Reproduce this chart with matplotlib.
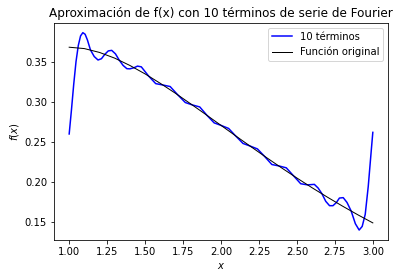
import matplotlib
matplotlib.use("Agg")
import matplotlib.pyplot as plt

# values
x_orig = [1.0, 1.1, 1.2, 1.3, 1.4, 1.5, 1.6, 1.7, 1.8, 1.9, 2.0,
          2.1, 2.2, 2.3, 2.4, 2.5, 2.6, 2.7, 2.8, 2.9, 3.0]
f_orig = [0.3679, 0.3662, 0.3614, 0.3543, 0.3452, 0.3347, 0.3230, 0.3106,
          0.2975, 0.2842, 0.2707, 0.2572, 0.2438, 0.2306, 0.2177, 0.2052,
          0.1931, 0.1815, 0.1703, 0.1596, 0.1494]

x_four = [1.00, 1.015, 1.03, 1.045, 1.06, 1.075, 1.09, 1.105, 1.12, 1.14,
          1.165, 1.19, 1.2125, 1.235, 1.2575, 1.28, 1.305, 1.33, 1.355, 1.38,
          1.40, 1.4275, 1.45, 1.475, 1.5225, 1.57, 1.6175, 1.665, 1.715, 1.765,
          1.81, 1.86, 1.9075, 1.955, 2.0, 2.05, 2.095, 2.145, 2.19, 2.24,
          2.285, 2.335, 2.38, 2.43, 2.4775, 2.525, 2.57, 2.615, 2.64, 2.665,
          2.69, 2.715, 2.7375, 2.76, 2.78, 2.805, 2.83, 2.8575, 2.885, 2.91,
          2.93, 2.95, 2.97, 2.99, 3.00]
f_four = [0.260, 0.290, 0.322, 0.350, 0.370, 0.382, 0.386, 0.384, 0.377, 0.3646,
          0.3563, 0.352, 0.3536, 0.3591, 0.3633, 0.364, 0.3596, 0.3517, 0.3453, 0.3412,
          0.341, 0.3424, 0.3444, 0.3435, 0.3322, 0.3226, 0.3209, 0.319, 0.3087, 0.2991,
          0.2962, 0.2936, 0.2832, 0.2738, 0.2707, 0.2669, 0.2578, 0.2482, 0.2451, 0.2414,
          0.2325, 0.2220, 0.2203, 0.2179, 0.2080, 0.1981, 0.1967, 0.1973, 0.1927, 0.1856,
          0.1762, 0.1708, 0.1708, 0.1747, 0.1803, 0.1808, 0.1748, 0.1641, 0.1484, 0.1405,
          0.145, 0.160, 0.195, 0.240, 0.262]

fig = plt.figure(figsize=(400/72, 278/72), dpi=72)
ax = fig.add_axes([0.135, 0.137, 0.835, 0.781])

ax.plot(x_four, f_four, color="blue", label="10 términos")
ax.plot(x_orig, f_orig, color="black", linewidth=1, label="Función original")
ax.set_xlabel("$x$")
ax.set_ylabel("$f(x)$")
ax.set_title("Aproximación de f(x) con 10 términos de serie de Fourier")
ax.legend(loc="upper right")

fig.savefig("out.png", dpi=72)
